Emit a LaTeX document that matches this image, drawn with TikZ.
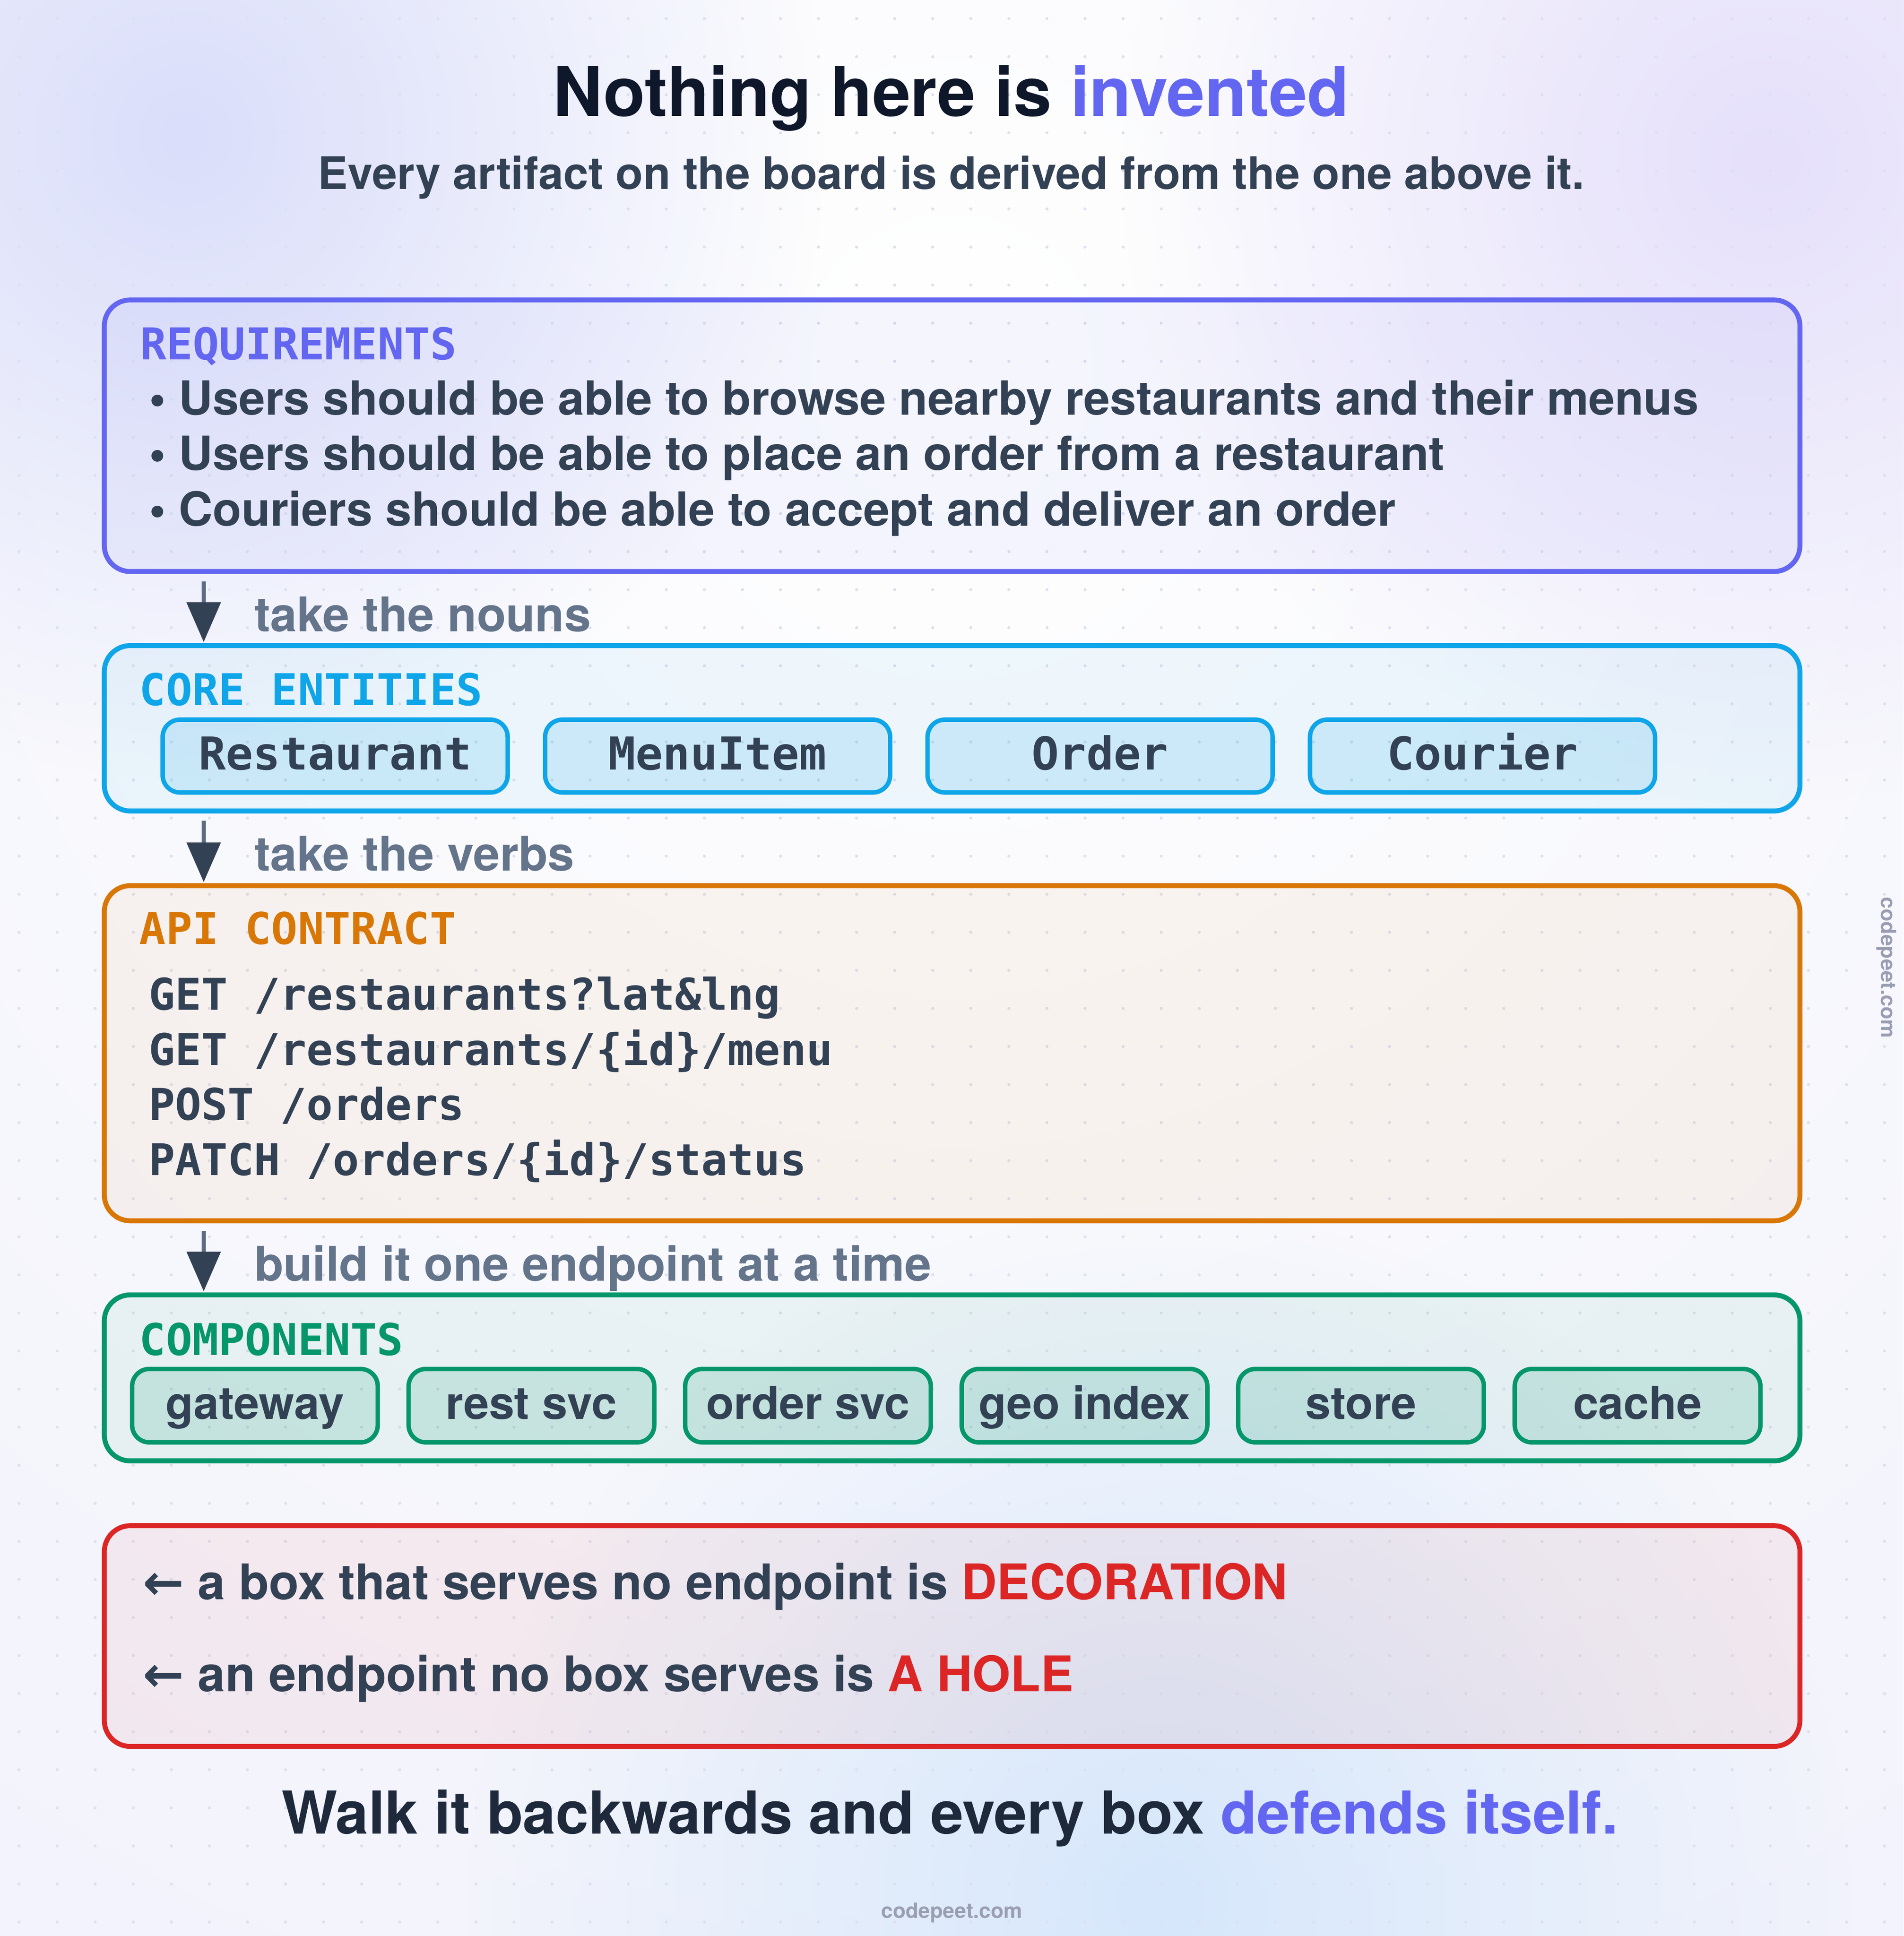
\documentclass[tikz,border=0pt]{standalone}
\usepackage{fontspec}
\setmainfont{TeX Gyre Heros}
\setmonofont{DejaVu Sans Mono}
\newfontfamily\arrowfont{DejaVu Sans}
\usetikzlibrary{arrows.meta,fadings}
\definecolor{bgbase}{HTML}{F2F3FC}
\definecolor{glowA}{HTML}{DADEFA}
\definecolor{glowB}{HTML}{E6E0FB}
\definecolor{glowC}{HTML}{D6E7FB}
\definecolor{dotc}{HTML}{DDE0F0}
\definecolor{indigoc}{HTML}{6366F1}
\definecolor{skyc}{HTML}{0EA5E9}
\definecolor{amberc}{HTML}{D97706}
\definecolor{emeraldc}{HTML}{059669}
\definecolor{redc}{HTML}{DC2626}
\definecolor{inkc}{HTML}{334155}
\definecolor{titlec}{HTML}{0F172A}
\definecolor{tagc}{HTML}{1E293B}
\definecolor{mutedc}{HTML}{64748B}
\definecolor{shaftc}{HTML}{5B6B84}
\definecolor{headc}{HTML}{334155}
\definecolor{brandc}{HTML}{9A9EB3}
\newcommand{\setfs}[1]{\fontsize{#1}{#1}\selectfont}
\tikzfading[name=glowfade, inner color=transparent!0, outer color=transparent!100]
\tikzset{
  bigbox/.style={draw=#1, line width=4pt, fill=#1, fill opacity=0.06, rounded corners=21pt, inner sep=0pt, outer sep=0pt},
  chip/.style={draw=#1, line width=3.6pt, fill=#1, fill opacity=0.15, text opacity=1, rounded corners=14pt, inner sep=0pt, outer sep=0pt, text=inkc},
  entchip/.style={chip=skyc, minimum width=279.5pt, minimum height=59pt, text height=22.2pt, text depth=0pt, font=\ttfamily\bfseries\setfs{36.7}},
  compchip/.style={chip=emeraldc, minimum width=199pt, minimum height=59.5pt, text height=22.1pt, text depth=0pt, font=\bfseries\setfs{36.8}},
  lbl/.style={anchor=base west, inner sep=0pt, outer sep=0pt},
  head/.style={lbl, font=\ttfamily\bfseries\setfs{35.5}},
  bullet/.style={lbl, text=inkc, font=\bfseries\setfs{38.1}},
  code/.style={lbl, text=inkc, font=\ttfamily\bfseries\setfs{35.4}},
  steplabel/.style={lbl, text=mutedc, font=\bfseries\setfs{38.7}},
  warnline/.style={lbl, text=inkc, font=\bfseries\setfs{39.8}},
  flow/.style={line width=3.5pt, draw=shaftc, -{Triangle[width=28pt,length=32pt,color=headc,fill=headc,line width=0pt]}},
  glow/.style={fill=#1, path fading=glowfade}
}
\begin{document}
\begin{tikzpicture}[x=1pt,y=-1pt]
\useasboundingbox (0,0) rectangle (1542,1568.4);
% background
\fill[bgbase] (0,0) rectangle (1542,1568.4);
\fill[white, path fading=glowfade] (771,300) circle (1500);
\fill[glow=glowA] (150,110) circle (520);
\fill[glow=glowB] (1430,130) circle (520);
\fill[glow=glowC] (940,1540) circle (560);
% dot grid
\foreach \i in {0,...,49}{
  \foreach \j in {0,...,50}{
    \fill[dotc] (15.4+30.84*\i, 15.1+30.84*\j) circle (1.25);
  }
}
% title
\node[anchor=base, inner sep=0pt, font=\bfseries\setfs{55.4}] (title) at (770.5,94.2)
  {\textcolor{titlec}{Nothing here is }\textcolor{indigoc}{invented}};
\node[anchor=base, inner sep=0pt, text=inkc, font=\bfseries\setfs{36.3}] (subtitle) at (770.6,153.3)
  {Every artifact on the board is derived from the one above it.};
% boxes
\node[bigbox=indigoc, minimum width=1373.5pt, minimum height=220pt] (req) at (771.25,353) {};
\node[bigbox=skyc, minimum width=1373.5pt, minimum height=134pt] (core) at (771.25,590) {};
\node[bigbox=amberc, minimum width=1373.5pt, minimum height=271.5pt] (api) at (771.25,853.25) {};
\node[bigbox=emeraldc, minimum width=1373.5pt, minimum height=134.5pt] (comp) at (771.25,1116.25) {};
\node[bigbox=redc, minimum width=1373.5pt, minimum height=178.8pt] (warn) at (771.25,1325.4) {};
% requirements
\node[head, text=indigoc] (reqT) at (113.5,291.5) {REQUIREMENTS};
\node[bullet] (r1) at (121,336) {• Users should be able to browse nearby restaurants and their menus};
\node[bullet] (r2) at (121,381) {• Users should be able to place an order from a restaurant};
\node[bullet] (r3) at (121,426) {• Couriers should be able to accept and deliver an order};
% core entities
\node[head, text=skyc] (coreT) at (113,571.5) {CORE ENTITIES};
\node[entchip] (e1) at (271.5,612.5) {Restaurant};
\node[entchip] (e2) at (581.3,612.5) {MenuItem};
\node[entchip] (e3) at (891.1,612.5) {Order};
\node[entchip] (e4) at (1200.9,612.5) {Courier};
% api contract
\node[head, text=amberc] (apiT) at (113,765) {API CONTRACT};
\node[code] (a1) at (120.5,818) {GET /restaurants?lat\&lng};
\node[code] (a2) at (120.5,863) {GET /restaurants/\{id\}/menu};
\node[code] (a3) at (120.5,907.5) {POST /orders};
\node[code] (a4) at (120.5,952) {PATCH /orders/\{id\}/status};
% components
\node[head, text=emeraldc] (compT) at (113,1098) {COMPONENTS};
\node[compchip] (c1) at (206.5,1138.75) {gateway};
\node[compchip] (c2) at (430.5,1138.75) {rest svc};
\node[compchip] (c3) at (654.5,1138.75) {order svc};
\node[compchip] (c4) at (878.5,1138.75) {geo index};
\node[compchip] (c5) at (1102.5,1138.75) {store};
\node[compchip] (c6) at (1326.5,1138.75) {cache};
% warnings
\node[warnline] (w1) at (116,1295.7) {{\arrowfont\bfseries ←} a box that serves no endpoint is \textcolor{redc}{DECORATION}};
\node[warnline] (w2) at (116,1370.3) {{\arrowfont\bfseries ←} an endpoint no box serves is \textcolor{redc}{A HOLE}};
% flow arrows
\coordinate (ax) at (165,0);
\draw[flow] ([yshift=-8pt]req.south -| ax) -- ([yshift=3pt]core.north -| ax);
\draw[flow] ([yshift=-8pt]core.south -| ax) -- ([yshift=3pt]api.north -| ax);
\draw[flow] ([yshift=-8pt]api.south -| ax) -- ([yshift=3pt]comp.north -| ax);
\node[steplabel] (s1) at (206,511.7) {take the nouns};
\node[steplabel] (s2) at (206,705.6) {take the verbs};
\node[steplabel] (s3) at (206,1037.6) {build it one endpoint at a time};
% tagline and brand
\node[anchor=base, inner sep=0pt, font=\bfseries\setfs{47.9}] (tag) at (769.5,1485.5)
  {\textcolor{tagc}{Walk it backwards and every box }\textcolor{indigoc}{defends itself.}};
\node[anchor=base, inner sep=0pt, text=brandc, font=\bfseries\setfs{17}] (brand) at (771,1553.7) {codepeet.com};
\node[rotate=-90, inner sep=0pt, text=brandc, font=\bfseries\setfs{17}] (brandv) at (1528,784) {codepeet.com};
\end{tikzpicture}
\end{document}
